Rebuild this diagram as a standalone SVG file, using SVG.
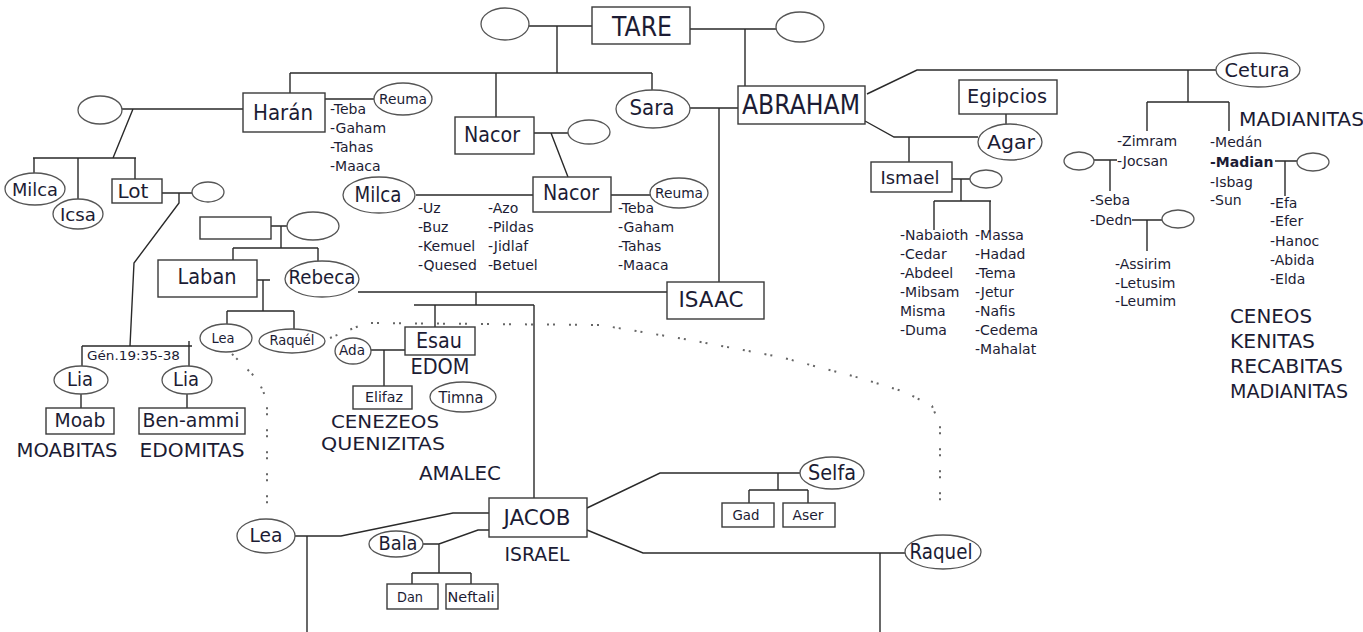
<svg xmlns="http://www.w3.org/2000/svg" width="1363" height="632" viewBox="0 0 1363 632">
<style>
rect.b{fill:#fff;stroke:#3a3a3a;stroke-width:1.4}
ellipse.o{fill:#fff;stroke:#555;stroke-width:1.3}
.c path{fill:none;stroke:#2a2a2a;stroke-width:1.4}
.c .dot{stroke:#666;stroke-width:2;stroke-dasharray:2 4 2 14}
text{font-family:"DejaVu Sans","Liberation Sans",sans-serif;fill:#1c1c34}
.m{text-anchor:middle;dominant-baseline:central}
.s{dominant-baseline:central}
.l{dominant-baseline:central;font-size:14px}
</style>
<rect width="1363" height="632" fill="#fff"/>
<g class="c" id="connectors">
<path d="M529 26H592M557 26V73M290 73H652M290 73V93M496 73V118M652 73V90"/>
<path d="M690 29H776M745 29V86"/>
<path d="M690 108H738M719 108V282"/>
<path d="M122 109H243M133 109L113 158M33 158H136M34 158V174M78 158V200M135 158V179"/>
<path d="M162 193H192M179 193V203L134 263L130 346"/>
<path d="M82 346H192M82 346V366M189 341V366M81 394V408M187 394V408"/>
<path d="M325 99H374"/>
<path d="M534 133H568M551 133L568 177"/>
<path d="M416 195H533M611 195H650"/>
<path d="M358 292H667M476 292V305M414 305H534M534 305V498M435 305V327"/>
<path d="M371 350H405M384 350V386"/>
<path d="M271 226H287M281 226V248M233 248H318M233 248V260M318 248V262"/>
<path d="M257 280H270M263 280V311M227 311H294M227 311V324M294 311V329"/>
<path class="dot" d="M330 338L366 323L600 325L690 340L780 357L860 378L905 392L932 406L940 425V502"/>
<path class="dot" d="M232 354L258 380L267 400V516"/>
<path d="M295 536H341L453 513H489M307 536V632"/>
<path d="M423 544H439L478 530H489M439 544V573M412 573H471M412 573V584M471 573V584"/>
<path d="M587 508L660 473H800M778 473V490M749 490H808M749 490V503M808 490V503"/>
<path d="M587 530L643 553H905M880 553V632"/>
<path d="M867 94L917 70H1216M1188 70V102M1147 102H1229M1147 102V131M1229 102V131"/>
<path d="M1006 114V125"/>
<path d="M865 121L894 137H978M909 137V162"/>
<path d="M952 179H970M961 179V201M934 201H991M934 201V230M990 201V230"/>
<path d="M1094 160H1117M1110 160V191"/>
<path d="M1132 220H1162M1147 220V251"/>
<path d="M1275 161H1297M1285 161V196"/>
</g>
<g id="tare"><rect class="b" x="592" y="7" width="98" height="37"/><text class="m" x="642" y="26" font-size="27" textLength="60" lengthAdjust="spacingAndGlyphs">TARE</text></g>
<g id="tare-wife-l"><ellipse class="o" cx="505" cy="24" rx="24" ry="16"/></g>
<g id="tare-wife-r"><ellipse class="o" cx="800" cy="27" rx="24" ry="15"/></g>
<g id="haran"><rect class="b" x="243" y="93" width="82" height="39"/><text class="m" x="283" y="112" font-size="22" textLength="60" lengthAdjust="spacingAndGlyphs">Harán</text></g>
<g id="haran-wife"><ellipse class="o" cx="100" cy="110" rx="22" ry="14"/></g>
<g id="milca1"><ellipse class="o" cx="35" cy="189" rx="30" ry="16"/><text class="m" x="35" y="189" font-size="18" textLength="46" lengthAdjust="spacingAndGlyphs">Milca</text></g>
<g id="icsa"><ellipse class="o" cx="78" cy="214" rx="25" ry="15"/><text class="m" x="78" y="214" font-size="18" textLength="36" lengthAdjust="spacingAndGlyphs">Icsa</text></g>
<g id="lot"><rect class="b" x="112" y="179" width="50" height="24"/><text class="m" x="133" y="191" font-size="19" textLength="31" lengthAdjust="spacingAndGlyphs">Lot</text></g>
<g id="lot-wife"><ellipse class="o" cx="208" cy="192" rx="16" ry="10"/></g>
<g id="reuma1"><ellipse class="o" cx="403" cy="99" rx="29" ry="16"/><text class="m" x="403" y="99" font-size="14" textLength="48" lengthAdjust="spacingAndGlyphs">Reuma</text></g>
<g id="haran-list"><text class="l" x="330" y="109">-Teba</text><text class="l" x="330" y="128">-Gaham</text><text class="l" x="330" y="147">-Tahas</text><text class="l" x="330" y="166">-Maaca</text></g>
<g id="nacor1"><rect class="b" x="455" y="117" width="79" height="37"/><text class="m" x="492" y="135" font-size="21" textLength="56" lengthAdjust="spacingAndGlyphs">Nacor</text></g>
<g id="nacor1-wife"><ellipse class="o" cx="589" cy="132" rx="21" ry="12"/></g>
<g id="sara"><ellipse class="o" cx="653" cy="109" rx="37" ry="19"/><text class="m" x="652" y="108" font-size="21" textLength="45" lengthAdjust="spacingAndGlyphs">Sara</text></g>
<g id="abraham"><rect class="b" x="738" y="86" width="127" height="38"/><text class="m" x="801" y="104" font-size="27" textLength="118" lengthAdjust="spacingAndGlyphs">ABRAHAM</text></g>
<g id="milca2"><ellipse class="o" cx="379" cy="195" rx="36" ry="18"/><text class="m" x="378" y="195" font-size="21" textLength="47" lengthAdjust="spacingAndGlyphs">Milca</text></g>
<g id="nacor2"><rect class="b" x="533" y="177" width="78" height="35"/><text class="m" x="571" y="193" font-size="21" textLength="56" lengthAdjust="spacingAndGlyphs">Nacor</text></g>
<g id="reuma2"><ellipse class="o" cx="679" cy="193" rx="29" ry="15"/><text class="m" x="679" y="193" font-size="14" textLength="48" lengthAdjust="spacingAndGlyphs">Reuma</text></g>
<g id="milca-list"><text class="l" x="418" y="208">-Uz</text><text class="l" x="418" y="227">-Buz</text><text class="l" x="418" y="246">-Kemuel</text><text class="l" x="418" y="265">-Quesed</text></g>
<g id="milca-list2"><text class="l" x="488" y="208">-Azo</text><text class="l" x="488" y="227">-Pildas</text><text class="l" x="488" y="246">-Jidlaf</text><text class="l" x="488" y="265">-Betuel</text></g>
<g id="reuma-list"><text class="l" x="618" y="208">-Teba</text><text class="l" x="618" y="227">-Gaham</text><text class="l" x="618" y="246">-Tahas</text><text class="l" x="618" y="265">-Maaca</text></g>
<g id="isaac"><rect class="b" x="667" y="282" width="97" height="37"/><text class="m" x="711" y="300" font-size="21" textLength="65" lengthAdjust="spacingAndGlyphs">ISAAC</text></g>
<g id="egipcios"><rect class="b" x="959" y="80" width="98" height="34"/><text class="m" x="1007" y="96" font-size="20" textLength="80" lengthAdjust="spacingAndGlyphs">Egipcios</text></g>
<g id="agar"><ellipse class="o" cx="1010" cy="142" rx="32" ry="18"/><text class="m" x="1011" y="142" font-size="20" textLength="48" lengthAdjust="spacingAndGlyphs">Agar</text></g>
<g id="ismael"><rect class="b" x="871" y="162" width="81" height="30"/><text class="m" x="910" y="177" font-size="18" textLength="59" lengthAdjust="spacingAndGlyphs">Ismael</text></g>
<g id="ismael-wife"><ellipse class="o" cx="986" cy="179" rx="16" ry="9"/></g>
<g id="ismael-list"><text class="l" x="900" y="235">-Nabaioth</text><text class="l" x="900" y="254">-Cedar</text><text class="l" x="900" y="273">-Abdeel</text><text class="l" x="900" y="292">-Mibsam</text><text class="l" x="900" y="311">Misma</text><text class="l" x="900" y="330">-Duma</text></g>
<g id="ismael-list2"><text class="l" x="975" y="235">-Massa</text><text class="l" x="975" y="254">-Hadad</text><text class="l" x="975" y="273">-Tema</text><text class="l" x="975" y="292">-Jetur</text><text class="l" x="975" y="311">-Nafis</text><text class="l" x="975" y="330">-Cedema</text><text class="l" x="975" y="349">-Mahalat</text></g>
<g id="cetura"><ellipse class="o" cx="1258" cy="70" rx="42" ry="17"/><text class="m" x="1257" y="70" font-size="20" textLength="65" lengthAdjust="spacingAndGlyphs">Cetura</text></g>
<g id="madianitas-top"><text class="s" x="1239" y="119" font-size="20" textLength="125" lengthAdjust="spacingAndGlyphs">MADIANITAS</text></g>
<g id="cetura-list1"><text class="l" x="1117" y="141">-Zimram</text><text class="l" x="1117" y="161">-Jocsan</text></g>
<g id="cetura-list2"><text class="l" x="1210" y="142">-Medán</text><text class="l" x="1210" y="162" font-weight="bold">-Madian</text><text class="l" x="1210" y="182">-Isbag</text><text class="l" x="1210" y="200">-Sun</text></g>
<g id="jocsan-wife"><ellipse class="o" cx="1079" cy="161" rx="15" ry="9"/></g>
<g id="jocsan-list"><text class="l" x="1090" y="200">-Seba</text><text class="l" x="1090" y="220">-Dedn</text></g>
<g id="dedn-wife"><ellipse class="o" cx="1178" cy="219" rx="16" ry="9"/></g>
<g id="dedn-list"><text class="l" x="1115" y="264">-Assirim</text><text class="l" x="1115" y="283">-Letusim</text><text class="l" x="1115" y="301">-Leumim</text></g>
<g id="madian-wife"><ellipse class="o" cx="1313" cy="162" rx="16" ry="9"/></g>
<g id="madian-list"><text class="l" x="1270" y="203">-Efa</text><text class="l" x="1270" y="221">-Efer</text><text class="l" x="1270" y="241">-Hanoc</text><text class="l" x="1270" y="260">-Abida</text><text class="l" x="1270" y="279">-Elda</text></g>
<g id="peoples-right" font-size="20"><text class="s" x="1230" y="316" textLength="82" lengthAdjust="spacingAndGlyphs">CENEOS</text><text class="s" x="1230" y="341" textLength="85" lengthAdjust="spacingAndGlyphs">KENITAS</text><text class="s" x="1230" y="366" textLength="113" lengthAdjust="spacingAndGlyphs">RECABITAS</text><text class="s" x="1230" y="391" textLength="118" lengthAdjust="spacingAndGlyphs">MADIANITAS</text></g>
<g id="rebeca-father"><rect class="b" x="200" y="217" width="71" height="22"/></g>
<g id="rebeca-mother"><ellipse class="o" cx="313" cy="226" rx="26" ry="14"/></g>
<g id="laban"><rect class="b" x="158" y="260" width="99" height="37"/><text class="m" x="207" y="277" font-size="21" textLength="59" lengthAdjust="spacingAndGlyphs">Laban</text></g>
<g id="rebeca"><ellipse class="o" cx="322" cy="279" rx="37" ry="18"/><text class="m" x="322" y="277" font-size="20" textLength="67" lengthAdjust="spacingAndGlyphs">Rebeca</text></g>
<g id="lea1"><ellipse class="o" cx="226" cy="338" rx="26" ry="14"/><text class="m" x="223" y="338" font-size="14" textLength="23" lengthAdjust="spacingAndGlyphs">Lea</text></g>
<g id="raquel1"><ellipse class="o" cx="292" cy="341" rx="33" ry="12"/><text class="m" x="292" y="340" font-size="14" textLength="45" lengthAdjust="spacingAndGlyphs">Raquél</text></g>
<g id="gen"><text class="s" x="87" y="355" font-size="13" textLength="93" lengthAdjust="spacingAndGlyphs">Gén.19:35-38</text></g>
<g id="lia1"><ellipse class="o" cx="81" cy="380" rx="27" ry="14"/><text class="m" x="80" y="379" font-size="19" textLength="26" lengthAdjust="spacingAndGlyphs">Lia</text></g>
<g id="lia2"><ellipse class="o" cx="187" cy="380" rx="25" ry="14"/><text class="m" x="186" y="379" font-size="19" textLength="26" lengthAdjust="spacingAndGlyphs">Lia</text></g>
<g id="moab"><rect class="b" x="46" y="408" width="68" height="26"/><text class="m" x="80" y="420" font-size="19" textLength="51" lengthAdjust="spacingAndGlyphs">Moab</text></g>
<g id="benammi"><rect class="b" x="139" y="408" width="106" height="26"/><text class="m" x="191" y="420" font-size="19" textLength="97" lengthAdjust="spacingAndGlyphs">Ben-ammi</text></g>
<g id="moabitas"><text class="m" x="67" y="450" font-size="20" textLength="101" lengthAdjust="spacingAndGlyphs">MOABITAS</text></g>
<g id="edomitas"><text class="m" x="192" y="450" font-size="20" textLength="105" lengthAdjust="spacingAndGlyphs">EDOMITAS</text></g>
<g id="esau"><rect class="b" x="405" y="327" width="70" height="28"/><text class="m" x="439" y="341" font-size="21" textLength="46" lengthAdjust="spacingAndGlyphs">Esau</text></g>
<g id="edom"><text class="m" x="440" y="367" font-size="21" textLength="59" lengthAdjust="spacingAndGlyphs">EDOM</text></g>
<g id="ada"><ellipse class="o" cx="353" cy="351" rx="18" ry="13"/><text class="m" x="352" y="350" font-size="14" textLength="26" lengthAdjust="spacingAndGlyphs">Ada</text></g>
<g id="elifaz"><rect class="b" x="353" y="386" width="59" height="23"/><text class="m" x="384" y="397" font-size="14" textLength="38" lengthAdjust="spacingAndGlyphs">Elifaz</text></g>
<g id="timna"><ellipse class="o" cx="463" cy="397" rx="33" ry="15"/><text class="m" x="461" y="397" font-size="16" textLength="45" lengthAdjust="spacingAndGlyphs">Timna</text></g>
<g id="esau-peoples" font-size="18"><text class="m" x="385" y="421" textLength="108" lengthAdjust="spacingAndGlyphs">CENEZEOS</text><text class="m" x="383" y="443" textLength="124" lengthAdjust="spacingAndGlyphs">QUENIZITAS</text><text class="m" x="460" y="473" font-size="20" textLength="82" lengthAdjust="spacingAndGlyphs">AMALEC</text></g>
<g id="jacob"><rect class="b" x="489" y="498" width="98" height="39"/><text class="m" x="537" y="518" font-size="21" textLength="67" lengthAdjust="spacingAndGlyphs">JACOB</text></g>
<g id="israel"><text class="m" x="537" y="554" font-size="20" textLength="65" lengthAdjust="spacingAndGlyphs">ISRAEL</text></g>
<g id="lea2"><ellipse class="o" cx="266" cy="536" rx="29" ry="17"/><text class="m" x="266" y="535" font-size="19" textLength="33" lengthAdjust="spacingAndGlyphs">Lea</text></g>
<g id="bala"><ellipse class="o" cx="396" cy="544" rx="27" ry="13"/><text class="m" x="398" y="543" font-size="19" textLength="39" lengthAdjust="spacingAndGlyphs">Bala</text></g>
<g id="dan"><rect class="b" x="387" y="584" width="51" height="25"/><text class="m" x="410" y="597" font-size="14" textLength="26" lengthAdjust="spacingAndGlyphs">Dan</text></g>
<g id="neftali"><rect class="b" x="446" y="584" width="52" height="25"/><text class="m" x="471" y="597" font-size="14" textLength="47" lengthAdjust="spacingAndGlyphs">Neftali</text></g>
<g id="selfa"><ellipse class="o" cx="832" cy="473" rx="32" ry="16"/><text class="m" x="832" y="473" font-size="21" textLength="48" lengthAdjust="spacingAndGlyphs">Selfa</text></g>
<g id="gad"><rect class="b" x="722" y="503" width="52" height="24"/><text class="m" x="746" y="515" font-size="14" textLength="27" lengthAdjust="spacingAndGlyphs">Gad</text></g>
<g id="aser"><rect class="b" x="783" y="503" width="52" height="24"/><text class="m" x="808" y="515" font-size="14" textLength="31" lengthAdjust="spacingAndGlyphs">Aser</text></g>
<g id="raquel2"><ellipse class="o" cx="943" cy="552" rx="38" ry="17"/><text class="m" x="941" y="552" font-size="21" textLength="63" lengthAdjust="spacingAndGlyphs">Raquel</text></g>
</svg>
